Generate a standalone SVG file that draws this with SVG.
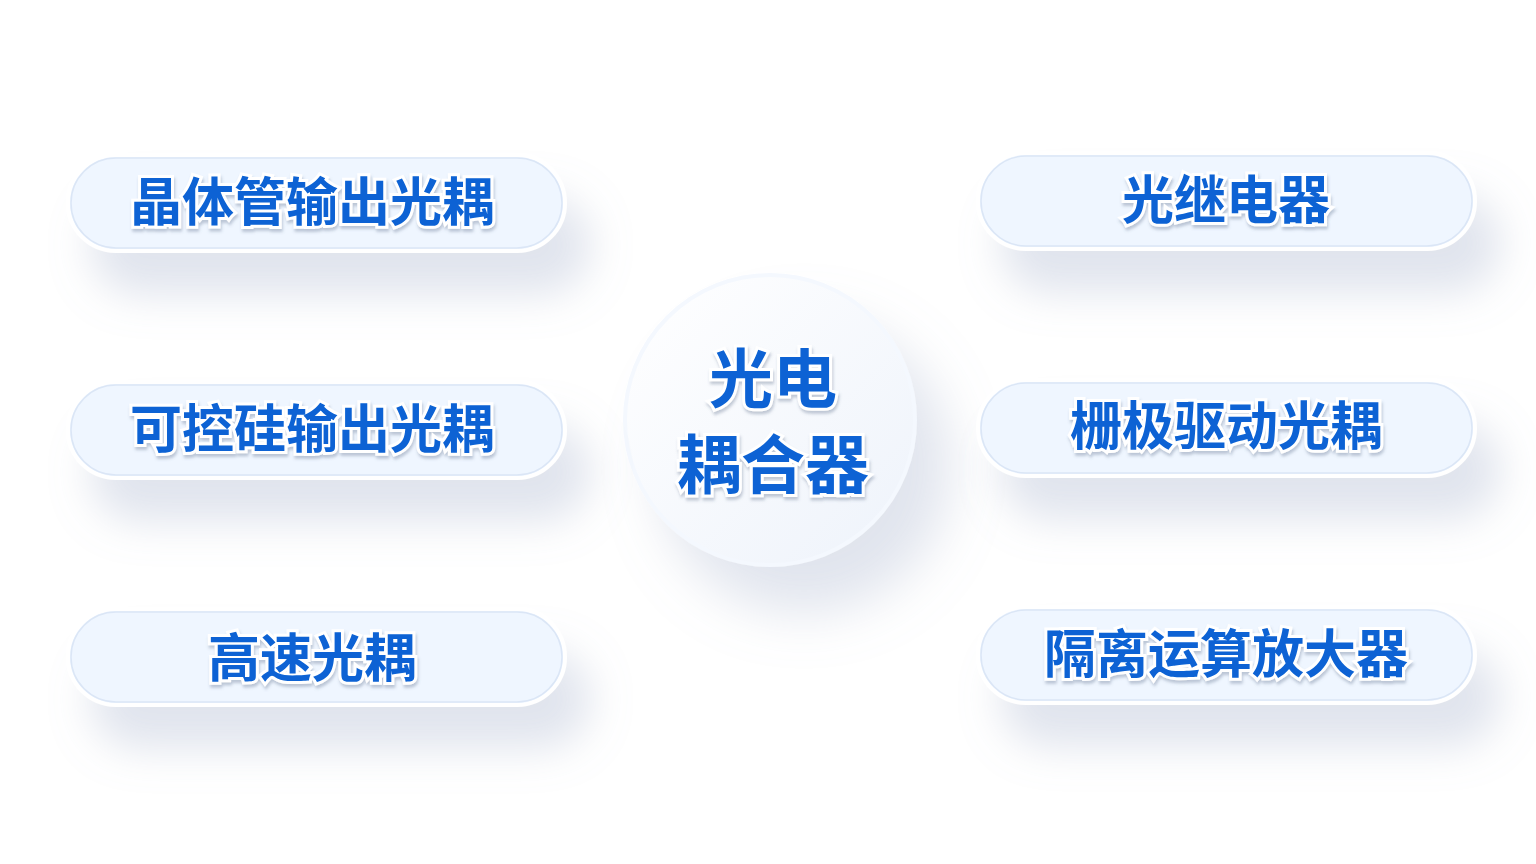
<svg xmlns="http://www.w3.org/2000/svg" width="1536" height="864" viewBox="0 0 1536 864">
<defs>
<filter id="sh" x="-30%" y="-60%" width="170%" height="300%">
<feDropShadow dx="24" dy="42" stdDeviation="20" flood-color="#9aa8c4" flood-opacity="0.3"/>
</filter>
<filter id="shc" x="-40%" y="-40%" width="200%" height="200%">
<feDropShadow dx="34" dy="46" stdDeviation="26" flood-color="#9aa8c4" flood-opacity="0.3"/>
</filter>
<filter id="ts" x="-10%" y="-20%" width="120%" height="150%">
<feDropShadow dx="1" dy="3" stdDeviation="1.5" flood-color="#5a6a88" flood-opacity="0.35"/>
</filter>
<linearGradient id="cg" x1="0" y1="0" x2="1" y2="1">
<stop offset="0" stop-color="#ffffff"/>
<stop offset="1" stop-color="#eef3fb"/>
</linearGradient>
</defs>
<style>
.pill{fill:#eff6ff;stroke:#ffffff;stroke-width:4}
.pin{fill:none;stroke:#dbe6f6;stroke-width:1.5}
.t{font-family:"Noto Sans CJK SC","Noto Sans",sans-serif;font-weight:700;font-size:52px;fill:#0a62d4;stroke:#ffffff;stroke-width:6;paint-order:stroke fill;text-anchor:middle;dominant-baseline:central}
.tc{font-size:64px}
</style>
<rect width="1536" height="864" fill="#ffffff"/>
<g id="connectors"></g>
<g id="center" filter="url(#shc)">
<circle cx="770" cy="420" r="145" fill="url(#cg)" stroke="#f4f8fe" stroke-width="4"/>
</g>
<g id="center-label" filter="url(#ts)">
<text class="t tc" x="773" y="374">光电</text>
<text class="t tc" x="773" y="460">耦合器</text>
</g>
<g id="n1">
<rect class="pill" filter="url(#sh)" x="68" y="155" width="497" height="96" rx="48"/>
<rect class="pin" x="71" y="158" width="491" height="90" rx="45"/>
<text class="t" filter="url(#ts)" x="312" y="198">晶体管输出光耦</text>
</g>
<g id="n2">
<rect class="pill" filter="url(#sh)" x="68" y="382" width="497" height="96" rx="48"/>
<rect class="pin" x="71" y="385" width="491" height="90" rx="45"/>
<text class="t" filter="url(#ts)" x="312" y="425">可控硅输出光耦</text>
</g>
<g id="n3">
<rect class="pill" filter="url(#sh)" x="68" y="609" width="497" height="96" rx="48"/>
<rect class="pin" x="71" y="612" width="491" height="90" rx="45"/>
<text class="t" filter="url(#ts)" x="312" y="654">高速光耦</text>
</g>
<g id="n4">
<rect class="pill" filter="url(#sh)" x="978" y="153" width="497" height="96" rx="48"/>
<rect class="pin" x="981" y="156" width="491" height="90" rx="45"/>
<text class="t" filter="url(#ts)" x="1226" y="196">光继电器</text>
</g>
<g id="n5">
<rect class="pill" filter="url(#sh)" x="978" y="380" width="497" height="96" rx="48"/>
<rect class="pin" x="981" y="383" width="491" height="90" rx="45"/>
<text class="t" filter="url(#ts)" x="1226" y="422">栅极驱动光耦</text>
</g>
<g id="n6">
<rect class="pill" filter="url(#sh)" x="978" y="607" width="497" height="96" rx="48"/>
<rect class="pin" x="981" y="610" width="491" height="90" rx="45"/>
<text class="t" filter="url(#ts)" x="1226" y="650">隔离运算放大器</text>
</g>
</svg>
